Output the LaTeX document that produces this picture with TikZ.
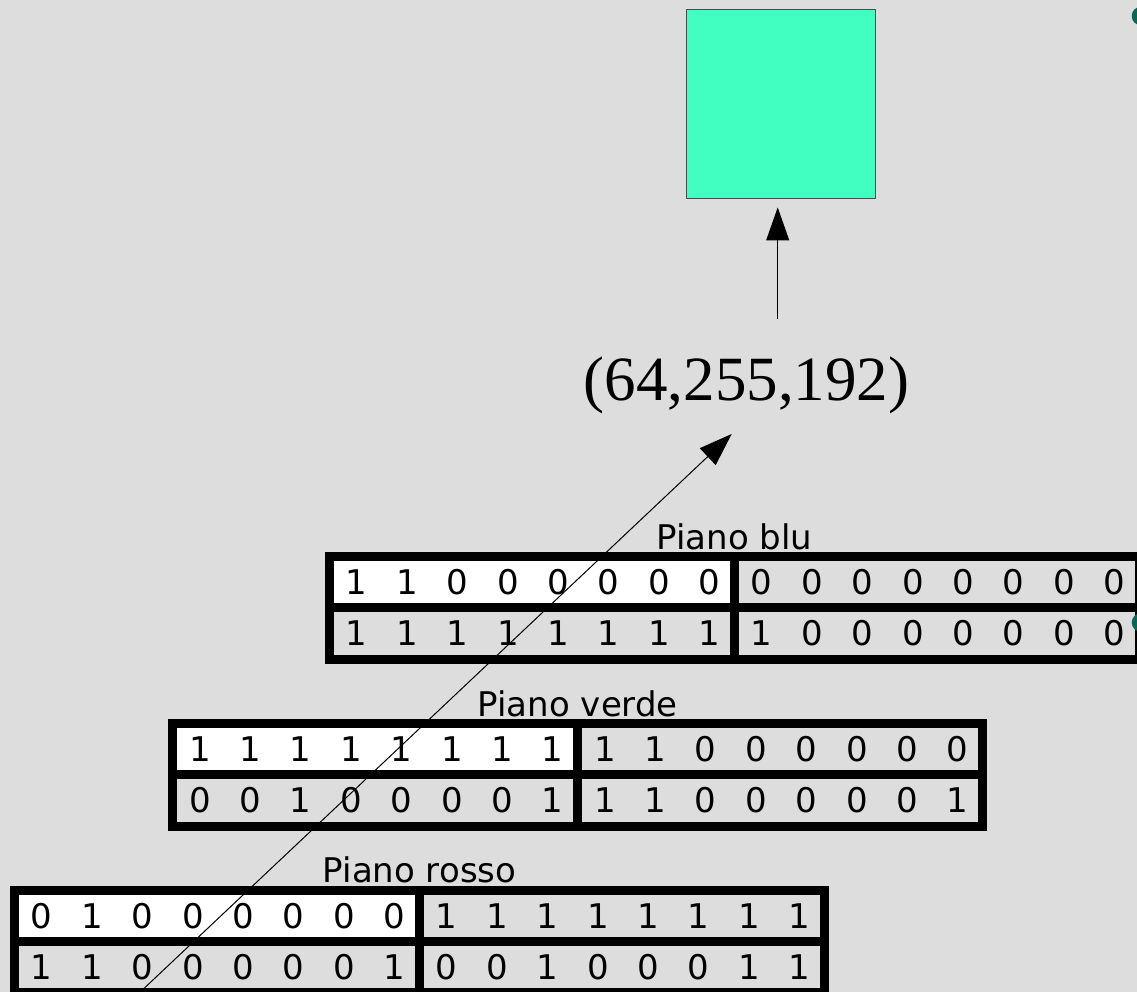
\documentclass[tikz,border=0pt]{standalone}
\usepackage{fontspec}
\setmainfont{Liberation Serif}
\newfontfamily\bitfont{DejaVu Sans}
\usetikzlibrary{arrows.meta,positioning}
\definecolor{slidegray}{HTML}{DDDDDD}
\definecolor{pixelgreen}{RGB}{64,255,192}
\definecolor{bulletteal}{HTML}{0B6655}

\begin{document}
\begin{tikzpicture}[
  x=1pt, y=-1pt,
  >=Stealth,
  half/.style={rectangle, draw=black, fill=slidegray, line width=9pt, minimum width=405pt, minimum height=51.3pt, inner sep=0pt, outer sep=0pt, anchor=north west},
  lead/.style={half, fill=white},
  bit/.style={font=\bitfont\fontsize{34}{40}\selectfont, inner sep=0pt},
  plane/.style={font=\bitfont\fontsize{34}{40}\selectfont, inner sep=0pt, anchor=base},
  flow/.style={-{Triangle[length=33pt, width=23pt]}, draw=black, line width=1pt}
]
  \useasboundingbox (0,0) rectangle (1137,992);
  \fill[slidegray] (0,0) rectangle (1137,992);

  % colour sample and its value
  \node[rectangle, draw=black!70, fill=pixelgreen, line width=1pt, minimum width=189pt, minimum height=189.5pt, inner sep=0pt] (pixel) at (781.3,104.2) {};
  \node[font=\fontsize{63}{70}\selectfont, inner sep=0pt, anchor=base] (rgb) at (746.7,400) {(64,255,192)};

  % red plane
  \node[lead] (rosso-a) at (14.5,890) {};
  \node[half, right=0pt of rosso-a] (rosso-b) {};
  \node[half, below=0pt of rosso-a] (rosso-c) {};
  \node[half, right=0pt of rosso-c] (rosso-d) {};
  \node[plane] (rosso-t) at ([yshift=7.5pt]rosso-a.north east) {Piano rosso};
  \foreach \b [count=\k from 0] in {0,1,0,0,0,0,0,0}
    \node[bit] (rosso-a\k) at ([xshift=27.2pt+50.4pt*\k]rosso-a.west) {\b};
  \foreach \b [count=\k from 0] in {1,1,1,1,1,1,1,1}
    \node[bit] (rosso-b\k) at ([xshift=27.2pt+50.4pt*\k]rosso-b.west) {\b};
  \foreach \b [count=\k from 0] in {1,1,0,0,0,0,0,1}
    \node[bit] (rosso-c\k) at ([xshift=27.2pt+50.4pt*\k]rosso-c.west) {\b};
  \foreach \b [count=\k from 0] in {0,0,1,0,0,0,1,1}
    \node[bit] (rosso-d\k) at ([xshift=27.2pt+50.4pt*\k]rosso-d.west) {\b};

  % green plane
  \node[lead] (verde-a) at (172.8,723.6) {};
  \node[half, right=0pt of verde-a] (verde-b) {};
  \node[half, below=0pt of verde-a] (verde-c) {};
  \node[half, right=0pt of verde-c] (verde-d) {};
  \node[plane] (verde-t) at ([yshift=7.5pt]verde-a.north east) {Piano verde};
  \foreach \b [count=\k from 0] in {1,1,1,1,1,1,1,1}
    \node[bit] (verde-a\k) at ([xshift=27.2pt+50.4pt*\k]verde-a.west) {\b};
  \foreach \b [count=\k from 0] in {1,1,0,0,0,0,0,0}
    \node[bit] (verde-b\k) at ([xshift=27.2pt+50.4pt*\k]verde-b.west) {\b};
  \foreach \b [count=\k from 0] in {0,0,1,0,0,0,0,1}
    \node[bit] (verde-c\k) at ([xshift=27.2pt+50.4pt*\k]verde-c.west) {\b};
  \foreach \b [count=\k from 0] in {1,1,0,0,0,0,0,1}
    \node[bit] (verde-d\k) at ([xshift=27.2pt+50.4pt*\k]verde-d.west) {\b};

  % blue plane
  \node[lead] (blu-a) at (329.5,556.5) {};
  \node[half, right=0pt of blu-a] (blu-b) {};
  \node[half, below=0pt of blu-a] (blu-c) {};
  \node[half, right=0pt of blu-c] (blu-d) {};
  \node[plane] (blu-t) at ([yshift=7.5pt]blu-a.north east) {Piano blu};
  \foreach \b [count=\k from 0] in {1,1,0,0,0,0,0,0}
    \node[bit] (blu-a\k) at ([xshift=27.2pt+50.4pt*\k]blu-a.west) {\b};
  \foreach \b [count=\k from 0] in {0,0,0,0,0,0,0,0}
    \node[bit] (blu-b\k) at ([xshift=27.2pt+50.4pt*\k]blu-b.west) {\b};
  \foreach \b [count=\k from 0] in {1,1,1,1,1,1,1,1}
    \node[bit] (blu-c\k) at ([xshift=27.2pt+50.4pt*\k]blu-c.west) {\b};
  \foreach \b [count=\k from 0] in {1,0,0,0,0,0,0,0}
    \node[bit] (blu-d\k) at ([xshift=27.2pt+50.4pt*\k]blu-d.west) {\b};

  % arrows
  \coordinate (bits-in) at (140.2,992);
  \coordinate (rgb-in) at (731.7,434);
  \coordinate (rgb-up) at (777.7,319.3);
  \draw[flow] (bits-in) -- (rgb-in);
  \draw[flow, shorten >=8pt] (rgb-up) -- (rgb-up |- pixel.south);

  % slide bullets cut by the edge
  \fill[bulletteal] (1141,16) circle[radius=9.3pt];
  \fill[bulletteal] (1141,622.5) circle[radius=9.3pt];
\end{tikzpicture}
\end{document}
